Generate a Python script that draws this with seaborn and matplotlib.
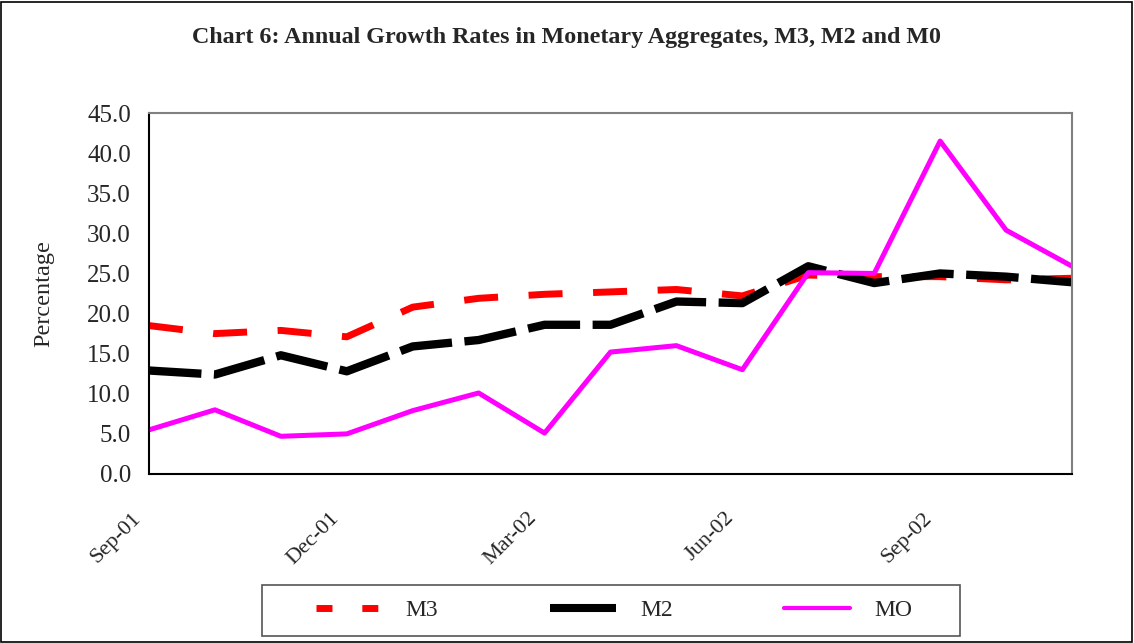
import matplotlib
matplotlib.use("Agg")
import matplotlib.pyplot as plt
import matplotlib.transforms as mtransforms
from matplotlib.lines import Line2D
from matplotlib.patches import Rectangle
import seaborn as sns
import numpy as np

# monthly data, Sep-01 .. Nov-02
months = ["Sep-01", "Oct-01", "Nov-01", "Dec-01", "Jan-02", "Feb-02", "Mar-02",
          "Apr-02", "May-02", "Jun-02", "Jul-02", "Aug-02", "Sep-02", "Oct-02", "Nov-02"]
m3 = [18.5, 17.5, 17.9, 17.1, 20.8, 21.9, 22.4, 22.7, 23.0, 22.2, 24.8, 24.6, 24.6, 24.2, 24.4]
m2 = [12.9, 12.4, 14.8, 12.8, 15.9, 16.7, 18.6, 18.6, 21.5, 21.3, 25.9, 23.8, 25.0, 24.6, 23.9]
m0 = [5.5, 8.0, 4.7, 5.0, 7.9, 10.1, 5.1, 15.2, 16.0, 13.0, 25.1, 25.0, 41.5, 30.4, 25.9]
labels = ["M3", "M2", "MO"]
title = "Chart 6: Annual Growth Rates in Monetary Aggregates, M3, M2 and M0"

sns.set_style("white")
plt.rcParams["font.family"] = ["Liberation Serif", "DejaVu Serif"]

fig = plt.figure(figsize=(11.34, 6.43), dpi=100)
ax = fig.add_axes([149/1134, 1-474/643, (1072-149)/1134, (474-113)/643])

x = np.arange(len(months))
sns.lineplot(x=x, y=m3, ax=ax, color="#ff0000", lw=5.0,
             linestyle=(0, (4.9, 4.4)), dash_capstyle="butt")
sns.lineplot(x=x, y=m2, ax=ax, color="black", lw=6.0,
             linestyle=(0, (6.3, 1.5)), dash_capstyle="butt")
sns.lineplot(x=x, y=m0, ax=ax, color="#ff00ff", lw=3.6)

ax.set_xlim(0, len(months) - 1)
ax.set_ylim(0, 45)
ax.set_yticks(np.arange(0, 46, 5))
ax.set_yticklabels([f"{v:.1f}" for v in np.arange(0, 46, 5)], fontsize=18)
ax.set_xticks(x)
ax.set_xticklabels([m if i % 3 == 0 else "" for i, m in enumerate(months)],
                   fontsize=16, rotation=45, ha="right")
ax.tick_params(axis="y", direction="inout", length=12, width=1.2, pad=7)
ax.tick_params(axis="x", direction="inout", length=10, width=1.2, pad=20)
offset = mtransforms.ScaledTranslation(-4/100, 0, fig.dpi_scale_trans)
for lab in ax.get_xticklabels():
    lab.set_transform(lab.get_transform() + offset)

ax.set_ylabel("Percentage", fontsize=17.5, labelpad=24)
for side in ["left", "bottom"]:
    ax.spines[side].set_color("black")
    ax.spines[side].set_linewidth(1.5)
for side in ["top", "right"]:
    ax.spines[side].set_color("#808080")
    ax.spines[side].set_linewidth(1.5)

fig.text(0.5, 1 - 38/643, title, ha="center", va="center",
         fontsize=17.3, fontweight="bold")

handles = [
    Line2D([], [], color="#ff0000", lw=5.0, linestyle=(0, (2.3, 4.3)), dash_capstyle="butt"),
    Line2D([], [], color="black", lw=5.8, solid_capstyle="butt"),
    Line2D([], [], color="#ff00ff", lw=3.0, solid_capstyle="round"),
]
leg = fig.legend(handles, labels, loc="center", ncol=3, mode="expand",
                 bbox_to_anchor=(316/1134, 1-636/643, (912-316)/1134, 51/643),
                 fontsize=17, frameon=False, handlelength=2.8,
                 handletextpad=1.0, borderpad=0, borderaxespad=0)

# legend frame and outer border
fig.patches.append(Rectangle((262/1134, 1-636/643), 698/1134, 51/643, transform=fig.transFigure,
                             fill=False, edgecolor="#555555", lw=1.2))
fig.patches.append(Rectangle((0.001, 0.002), 0.997, 0.995, transform=fig.transFigure,
                             fill=False, edgecolor="black", lw=1.2))

fig.savefig("out.png", dpi=100)
